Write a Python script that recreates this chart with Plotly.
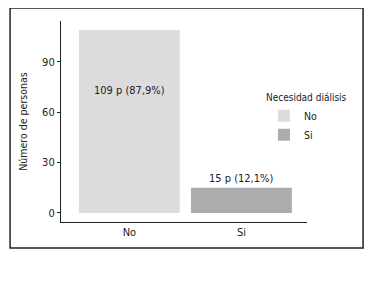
import plotly.graph_objects as go

categories = ["No", "Si"]
counts = [109, 15]
labels = ["109 p (87,9%)", "15 p (12,1%)"]
label_y = [73, 20.5]
colors = ["#DCDCDE", "#ABACAE"]
y_ticks = [0, 30, 60, 90]

FONT = "DejaVu Sans Condensed, Liberation Sans Narrow, Roboto, Arial"

fig = go.Figure()
for cat, val, col in zip(categories, counts, colors):
    fig.add_trace(go.Bar(x=[cat], y=[val], name=cat, marker=dict(color=col, line=dict(width=0)),
                         width=0.9))

for cat, lab, ly in zip(categories, labels, label_y):
    fig.add_annotation(x=cat, y=ly, text=lab, showarrow=False,
                       font=dict(family=FONT, size=11, color="#222"))

fig.update_layout(
    width=382, height=291,
    margin=dict(l=53, r=83, t=13, b=77, autoexpand=False),
    paper_bgcolor="white", plot_bgcolor="white",
    barmode="overlay",
    font=dict(family=FONT, size=11, color="#222"),
    legend=dict(title=dict(text="Necesidad diálisis", font=dict(size=10)),
                x=0.825, y=0.665, xanchor="left", yanchor="top",
                font=dict(size=10.5), tracegroupgap=0, itemwidth=30,
                bgcolor="rgba(0,0,0,0)"),
    shapes=[dict(type="rect", xref="paper", yref="paper",
                 x0=-0.207, x1=1.228, y0=-0.129, y1=1.065,
                 line=dict(color="#222", width=1.5))],
)
fig.update_xaxes(range=[-0.61, 1.585], showline=True, linecolor="#222", linewidth=1.2,
                 ticks="", showgrid=False, tickfont=dict(size=11, color="#222"), automargin=False)
fig.update_yaxes(range=[-5.4, 114.4], tickvals=y_ticks, showline=True, linecolor="#222",
                 linewidth=1.2, ticks="outside", ticklen=3, tickcolor="#222", showgrid=False,
                 zeroline=False, tickfont=dict(size=11, color="#222"), automargin=False,
                 title=dict(text="Número de personas", font=dict(size=10.5, color="#222"), standoff=12))

fig.write_html("out.html")
